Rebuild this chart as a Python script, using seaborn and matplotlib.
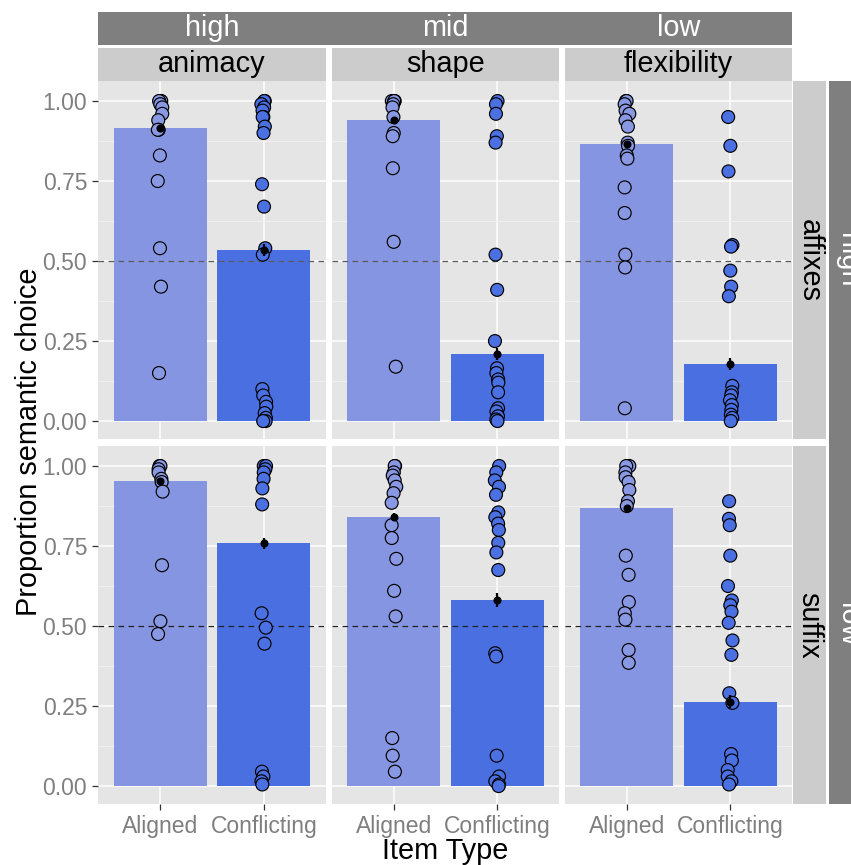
import numpy as np
import pandas as pd
import matplotlib
matplotlib.use("Agg")
import matplotlib.pyplot as plt
import seaborn as sns

plt.rcParams['font.family'] = ['Liberation Sans', 'DejaVu Sans']

# ---------------- data ----------------
item_types = ["Aligned", "Conflicting"]
cues = ["animacy", "shape", "flexibility"]
cue_levels = ["high", "mid", "low"]
affix_types = ["affixes", "suffix"]
affix_levels = ["high", "low"]

# individual points (row: affixes)
affixes_animacy_aligned = [1.0, 1.0, 1.0, 0.99, 0.98, 0.96, 0.94, 0.91, 0.91, 0.83, 0.75, 0.54, 0.42, 0.15]
affixes_animacy_conflicting = [1.0, 1.0, 0.99, 0.98, 0.97, 0.95, 0.95, 0.92, 0.90, 0.74, 0.67, 0.54, 0.52,
                               0.10, 0.08, 0.06, 0.045, 0.025, 0.01, 0.0, 0.0]
affixes_shape_aligned = [1.0, 1.0, 1.0, 0.99, 0.98, 0.95, 0.90, 0.89, 0.79, 0.56, 0.17]
affixes_shape_conflicting = [1.0, 0.99, 0.96, 0.89, 0.87, 0.52, 0.41, 0.25, 0.165, 0.15, 0.13, 0.12, 0.09,
                             0.04, 0.03, 0.015, 0.005, 0.0]
affixes_flexibility_aligned = [1.0, 1.0, 0.99, 0.97, 0.96, 0.94, 0.92, 0.87, 0.86, 0.83, 0.82, 0.73, 0.65,
                               0.52, 0.48, 0.04]
affixes_flexibility_conflicting = [0.95, 0.86, 0.78, 0.55, 0.545, 0.47, 0.42, 0.39, 0.11, 0.09, 0.08, 0.065,
                                   0.05, 0.035, 0.02, 0.01, 0.0]
# individual points (row: suffix)
suffix_animacy_aligned = [1.0, 1.0, 0.99, 0.98, 0.96, 0.95, 0.92, 0.69, 0.515, 0.475]
suffix_animacy_conflicting = [1.0, 1.0, 0.99, 0.98, 0.96, 0.93, 0.88, 0.54, 0.495, 0.445, 0.045, 0.03,
                              0.015, 0.005]
suffix_shape_aligned = [1.0, 1.0, 0.98, 0.97, 0.955, 0.935, 0.915, 0.885, 0.815, 0.775, 0.71, 0.61, 0.53,
                        0.15, 0.095, 0.045]
suffix_shape_conflicting = [1.0, 0.98, 0.955, 0.935, 0.91, 0.855, 0.84, 0.82, 0.80, 0.76, 0.73, 0.675,
                            0.415, 0.405, 0.095, 0.03, 0.015, 0.005, 0.0]
suffix_flexibility_aligned = [1.0, 1.0, 0.98, 0.965, 0.95, 0.925, 0.89, 0.875, 0.72, 0.66, 0.575, 0.54,
                              0.52, 0.425, 0.385]
suffix_flexibility_conflicting = [0.89, 0.835, 0.815, 0.72, 0.625, 0.58, 0.565, 0.545, 0.51, 0.455, 0.41,
                                  0.29, 0.26, 0.10, 0.08, 0.05, 0.03, 0.015, 0.005]

# bar means and standard errors, per cue (animacy, shape, flexibility)
affixes_mean_aligned = [0.915, 0.94, 0.866]
affixes_mean_conflicting = [0.535, 0.21, 0.178]
suffix_mean_aligned = [0.953, 0.84, 0.868]
suffix_mean_conflicting = [0.758, 0.581, 0.264]
affixes_se_aligned = [0.01, 0.01, 0.01]
affixes_se_conflicting = [0.018, 0.018, 0.018]
suffix_se_aligned = [0.01, 0.012, 0.01]
suffix_se_conflicting = [0.016, 0.022, 0.02]

points = {
    ("affixes", "animacy"): (affixes_animacy_aligned, affixes_animacy_conflicting),
    ("affixes", "shape"): (affixes_shape_aligned, affixes_shape_conflicting),
    ("affixes", "flexibility"): (affixes_flexibility_aligned, affixes_flexibility_conflicting),
    ("suffix", "animacy"): (suffix_animacy_aligned, suffix_animacy_conflicting),
    ("suffix", "shape"): (suffix_shape_aligned, suffix_shape_conflicting),
    ("suffix", "flexibility"): (suffix_flexibility_aligned, suffix_flexibility_conflicting),
}
means = {"affixes": (affixes_mean_aligned, affixes_mean_conflicting),
         "suffix": (suffix_mean_aligned, suffix_mean_conflicting)}
ses = {"affixes": (affixes_se_aligned, affixes_se_conflicting),
       "suffix": (suffix_se_aligned, suffix_se_conflicting)}

bar_colors = {"Aligned": "#8595E1", "Conflicting": "#4A6FE0"}
pt_colors = {"Aligned": "#8898E3", "Conflicting": "#4A70E2"}

# ---------------- layout ----------------
W, H = 851, 865
fig = plt.figure(figsize=(W / 100, H / 100), dpi=100)


def add_px(x0, y0, x1, y1):
    return fig.add_axes([x0 / W, 1 - y1 / H, (x1 - x0) / W, (y1 - y0) / H])


def strip(x0, y0, x1, y1, color):
    a = add_px(x0, y0, x1, y1)
    a.set_facecolor(color)
    a.set_xticks([]); a.set_yticks([])
    for s in a.spines.values():
        s.set_visible(False)
    return a


col_x = [(98, 326), (332, 559), (565, 792)]
row_y = [(81, 439), (446, 804)]
np.random.seed(3)

for r, aff in enumerate(affix_types):
    for c, cue in enumerate(cues):
        x0, x1 = col_x[c]
        y0, y1 = row_y[r]
        ax = add_px(x0, y0, x1, y1)
        al, co = points[(aff, cue)]
        df = pd.DataFrame({"type": ["Aligned"] * len(al) + ["Conflicting"] * len(co),
                           "value": list(al) + list(co)})
        m = [means[aff][0][c], means[aff][1][c]]
        e = [ses[aff][0][c], ses[aff][1][c]]
        sns.barplot(x=item_types, y=m, hue=item_types, palette=bar_colors, width=0.9,
                    saturation=1, errorbar=None, legend=False, ax=ax, zorder=2)
        sns.stripplot(data=df, x="type", y="value", hue="type", order=item_types,
                      hue_order=item_types, palette=pt_colors, jitter=0.025, size=9.3,
                      edgecolor="black", linewidth=0.85, legend=False, ax=ax, zorder=3)
        ax.errorbar([0, 1], m, yerr=e, fmt="o", color="black", ms=4.8, elinewidth=1.6,
                    capsize=0, zorder=4)
        ax.axhline(0.5, color="#5a5a5a" if r == 0 else "#222222", lw=0.9,
                   ls=(0, (4.5, 3.5)), zorder=2.5)
        ax.set_xlim(-0.6, 1.6)
        ax.set_ylim(-0.056, 1.0625)
        ax.set_facecolor("#E5E5E5")
        ax.set_yticks([0, 0.25, 0.5, 0.75, 1.0])
        ax.set_yticks([0.125, 0.375, 0.625, 0.875], minor=True)
        ax.set_xticks([0, 1])
        ax.set_axisbelow(True)
        ax.grid(which="major", color="white", lw=1.1)
        ax.grid(which="minor", axis="y", color="#F2F2F2", lw=0.6)
        for s in ax.spines.values():
            s.set_visible(False)
        ax.set_xlabel("")
        ax.set_ylabel("")
        ax.tick_params(which="minor", length=0)
        ax.tick_params(which="major", color="#333333", width=0.9, length=4.3, pad=3.5,
                       labelsize=16.5, labelcolor="#7F7F7F")
        if r == 1:
            ax.set_xticklabels(item_types)
        else:
            ax.tick_params(axis="x", length=0, labelbottom=False)
        if c == 0:
            ax.set_yticklabels(["0.00", "0.25", "0.50", "0.75", "1.00"])
        else:
            ax.tick_params(axis="y", length=0, labelleft=False)

# top strips
strip(98, 12, 792, 45, "#7F7F7F")
for c, lvl in enumerate(cue_levels):
    cx = (col_x[c][0] + col_x[c][1]) / 2
    fig.text(cx / W, 1 - 28.5 / H, lvl, color="white", fontsize=20.8, ha="center", va="center")
    strip(col_x[c][0], 48, col_x[c][1], 81, "#CCCCCC")
    fig.text(cx / W, 1 - 64.5 / H, cues[c], color="black", fontsize=20.8, ha="center", va="center")

# right strips (outer strip runs past the right edge, as in the reference)
strip(829, 81, 866, 804, "#7F7F7F")
for r, aff in enumerate(affix_types):
    y0, y1 = row_y[r]
    cy = (y0 + y1) / 2
    strip(793, y0, 826, y1, "#CCCCCC")
    fig.text(809.5 / W, 1 - cy / H, aff, color="black", fontsize=20.8, rotation=-90,
             ha="center", va="center")
    fig.text(847.5 / W, 1 - cy / H, affix_levels[r], color="white", fontsize=20.8, rotation=-90,
             ha="center", va="center")

# axis titles
fig.text(29 / W, 1 - 442 / H, "Proportion semantic choice", rotation=90, fontsize=20.8,
         ha="center", va="center")
fig.text(445 / W, 1 - 851 / H, "Item Type", fontsize=20.8, ha="center", va="center")

fig.savefig("out.png", dpi=100)
